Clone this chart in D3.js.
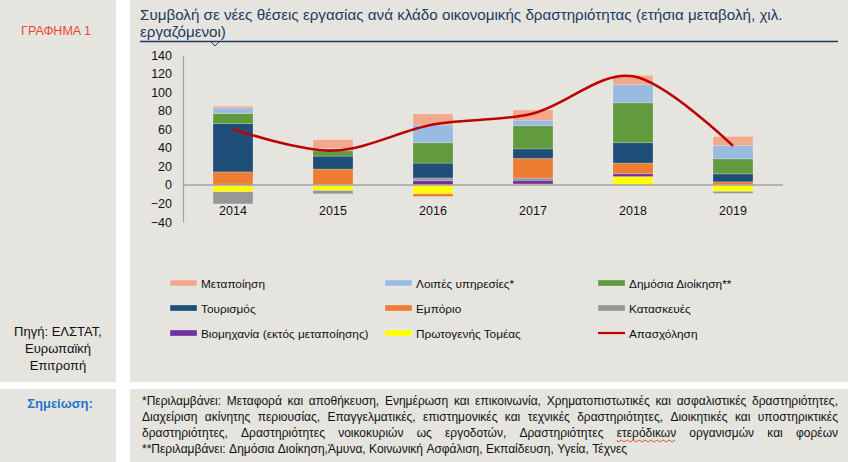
<!DOCTYPE html>
<html><head><meta charset="utf-8">
<script src="https://cdn.jsdelivr.net/npm/d3@7"></script>
<style>
html,body{margin:0;padding:0;background:#fff;}
svg{display:block;font-family:"Liberation Sans",Arial,sans-serif;}
</style></head>
<body>
<svg id="c" width="848" height="462"></svg>
<script>
// ---------- DATA ----------
const years = ["2014","2015","2016","2017","2018","2019"];
// series in stacking order (bottom-up)
const seriesKeys = ["Πρωτογενής Τομέας","Βιομηχανία (εκτός μεταποίησης)","Κατασκευές","Εμπόριο","Τουρισμός","Δημόσια Διοίκηση**","Λοιπές υπηρεσίες*","Μεταποίηση"];
const primary       = [-7.5, -6.0, -9.7,  1.0,  9.0, -7.0];
const industry      = [ 1.0,  0.5,  4.5,  4.0,  3.0,  0.3];
const construction  = [-13.0, -3.6, 3.0,  2.5,  0.0, -2.2];
const trade         = [13.0, 16.5, -2.8, 21.0, 11.5,  3.0];
const tourism       = [52.0, 14.0, 16.0, 10.3, 22.0,  8.6];
const publicAdmin   = [11.0,  5.7, 22.0, 25.0, 43.0, 16.2];
const otherServices = [ 6.0,  2.6, 19.0,  6.0, 19.5, 14.4];
const manufacturing = [ 2.0,  9.5, 12.0, 11.0, 10.0,  9.7];
const employment    = [60, 37, 65, 77, 117, 42];
const yTicks = [-40,-20,0,20,40,60,80,100,120,140];
const seriesColors = ["#FFFF00","#7030A0","#969696","#ED7D31","#1F4E79","#629B3E","#9ABBE1","#F2A88A"];
const legendOrder = ["Μεταποίηση","Λοιπές υπηρεσίες*","Δημόσια Διοίκηση**","Τουρισμός","Εμπόριο","Κατασκευές","Βιομηχανία (εκτός μεταποίησης)","Πρωτογενής Τομέας","Απασχόληση"];
const titleLines = ["Συμβολή σε νέες θέσεις εργασίας ανά κλάδο οικονομικής δραστηριότητας (ετήσια μεταβολή, χιλ.","εργαζόμενοι)"];
const noteLines = [
 "*Περιλαμβάνει: Μεταφορά και αποθήκευση, Ενημέρωση και επικοινωνία, Χρηματοπιστωτικές και ασφαλιστικές δραστηριότητες,",
 "Διαχείριση ακίνητης περιουσίας, Επαγγελματικές, επιστημονικές και τεχνικές δραστηριότητες, Διοικητικές και υποστηρικτικές",
 "δραστηριότητες, Δραστηριότητες νοικοκυριών ως εργοδοτών, Δραστηριότητες ετερόδικων οργανισμών και φορέων",
 "**Περιλαμβάνει: Δημόσια Διοίκηση,Άμυνα, Κοινωνική Ασφάλιση, Εκπαίδευση, Υγεία, Τέχνες"
];

// ---------- BUILD ----------
const seriesArrays = [primary, industry, construction, trade, tourism, publicAdmin, otherServices, manufacturing];
const table = years.map((y,i)=>{const o={year:y}; seriesKeys.forEach((k,j)=>o[k]=seriesArrays[j][i]); return o;});
const color = d3.scaleOrdinal().domain(seriesKeys).range(seriesColors);

const svg = d3.select("#c");
const bg = "#E5E4DF";
// panels
svg.append("rect").attr("x",0).attr("y",0).attr("width",848).attr("height",462).attr("fill","#fff");
svg.append("rect").attr("x",0).attr("y",0).attr("width",116).attr("height",382).attr("fill",bg);
svg.append("rect").attr("x",130).attr("y",0).attr("width",718).attr("height",382).attr("fill",bg);
svg.append("rect").attr("x",0).attr("y",389).attr("width",116).attr("height",73).attr("fill",bg);
svg.append("rect").attr("x",130).attr("y",389).attr("width",718).attr("height",73).attr("fill",bg);

// left panel texts
svg.append("text").attr("x",56).attr("y",35).attr("text-anchor","middle").attr("font-size",12.5).attr("fill","#E8473A").text("ΓΡΑΦΗΜΑ 1");
["Πηγή: ΕΛΣΤΑΤ,","Ευρωπαϊκή","Επιτροπή"].forEach((t,i)=>
  svg.append("text").attr("x",58).attr("y",336+i*17).attr("text-anchor","middle").attr("font-size",13).attr("fill","#111").text(t));

// title
titleLines.forEach((t,i)=>svg.append("text").attr("x",140).attr("y",20+i*17).attr("font-size",15.2).attr("fill","#1F3A63").text(t));
svg.append("line").attr("x1",140).attr("x2",838).attr("y1",41.5).attr("y2",41.5).attr("stroke","#1F3A63").attr("stroke-width",1.5);
svg.append("path").attr("d","M211,42 L215,46 L219,42").attr("fill","none").attr("stroke","#1F3A63").attr("stroke-width",1);

// scales
const x = d3.scaleBand().domain(years).range([183,783]).paddingInner(0.6).paddingOuter(0.3);
const y = d3.scaleLinear().domain([-40,140]).range([222,55]);

const stack = d3.stack().keys(seriesKeys).offset(d3.stackOffsetDiverging);
const stacked = stack(table);

const gBars = svg.append("g");
gBars.selectAll("g").data(stacked).join("g").attr("fill",d=>color(d.key))
  .selectAll("rect").data(d=>d).join("rect")
  .attr("x",d=>x(d.data.year)).attr("width",x.bandwidth())
  .attr("y",d=>y(Math.max(d[0],d[1]))).attr("height",d=>Math.abs(y(d[0])-y(d[1])))
  .attr("stroke","rgba(255,255,255,0.25)").attr("stroke-width",0.8);

// zero line
svg.append("line").attr("x1",183).attr("x2",783).attr("y1",y(0)).attr("y2",y(0)).attr("stroke","#A3A3A3").attr("stroke-width",1.5);

// y axis
const yAxis = d3.axisLeft(y).tickValues(yTicks).tickSize(0).tickPadding(11);
const ga = svg.append("g").attr("transform","translate(183,0)").call(yAxis);
ga.select(".domain").attr("stroke","#A3A3A3").attr("stroke-width",1.2);
ga.selectAll("text").attr("font-size",12.5).attr("fill","#111").attr("font-family","Liberation Sans, Arial, sans-serif");

// x axis labels
const xAxis = d3.axisBottom(x).tickSize(0).tickPadding(0);
const gx = svg.append("g").attr("transform","translate(0,206)").call(xAxis);
gx.select(".domain").remove();
gx.selectAll("text").attr("font-size",12.5).attr("fill","#111").attr("font-family","Liberation Sans, Arial, sans-serif");

// employment line
const line = d3.line().x((d,i)=>x(years[i])+x.bandwidth()/2).y(d=>y(d)).curve(d3.curveCatmullRom.alpha(0));
svg.append("path").datum(employment).attr("d",line).attr("fill","none").attr("stroke","#C00000").attr("stroke-width",2.6);

// legend
const colX = [170, 385, 598];
const rowY = [283, 308, 333];
legendOrder.forEach((name,i)=>{
  const cx = colX[i%3], cy = rowY[Math.floor(i/3)];
  const g = svg.append("g");
  if(name==="Απασχόληση"){
    g.append("line").attr("x1",cx).attr("x2",cx+27).attr("y1",cy).attr("y2",cy).attr("stroke","#C00000").attr("stroke-width",2.2);
  } else {
    g.append("rect").attr("x",cx).attr("y",cy-3).attr("width",27).attr("height",6).attr("fill",color(name))
      .attr("stroke","rgba(255,255,255,0.4)").attr("stroke-width",0.7);
  }
  g.append("text").attr("x",cx+31).attr("y",cy+4.5).attr("font-size",11.8).attr("fill","#111").text(name);
});

// note
svg.append("text").attr("x",60).attr("y",408).attr("text-anchor","middle").attr("font-size",13).attr("font-weight","bold").attr("fill","#1F77C8").text("Σημείωση:");
const nx0 = 142, nx1 = 838;
noteLines.forEach((ln,i)=>{
  const yy = 405 + i*16;
  const words = ln.split(" ");
  const g = svg.append("g");
  const nodes = words.map(w=>g.append("text").attr("y",yy).attr("font-size",12).attr("fill","#111").text(w));
  const widths = nodes.map(n=>n.node().getComputedTextLength());
  const total = d3.sum(widths);
  let gap;
  if(i<3){ gap = (nx1-nx0-total)/(words.length-1); } else { gap = 3.4; }
  let cx = nx0;
  nodes.forEach((n,j)=>{
    n.attr("x",cx);
    if(words[j]==="ετερόδικων"){
      const w = widths[j];
      let d = `M${cx},${yy+3}`;
      for(let k=0;k<w;k+=3){ d += ` L${cx+k+1.5},${yy+(k/3%2===0?5:3)}`; }
      g.append("path").attr("d",d).attr("fill","none").attr("stroke","#E03030").attr("stroke-width",0.8);
    }
    cx += widths[j]+gap;
  });
});
</script>
</body></html>
